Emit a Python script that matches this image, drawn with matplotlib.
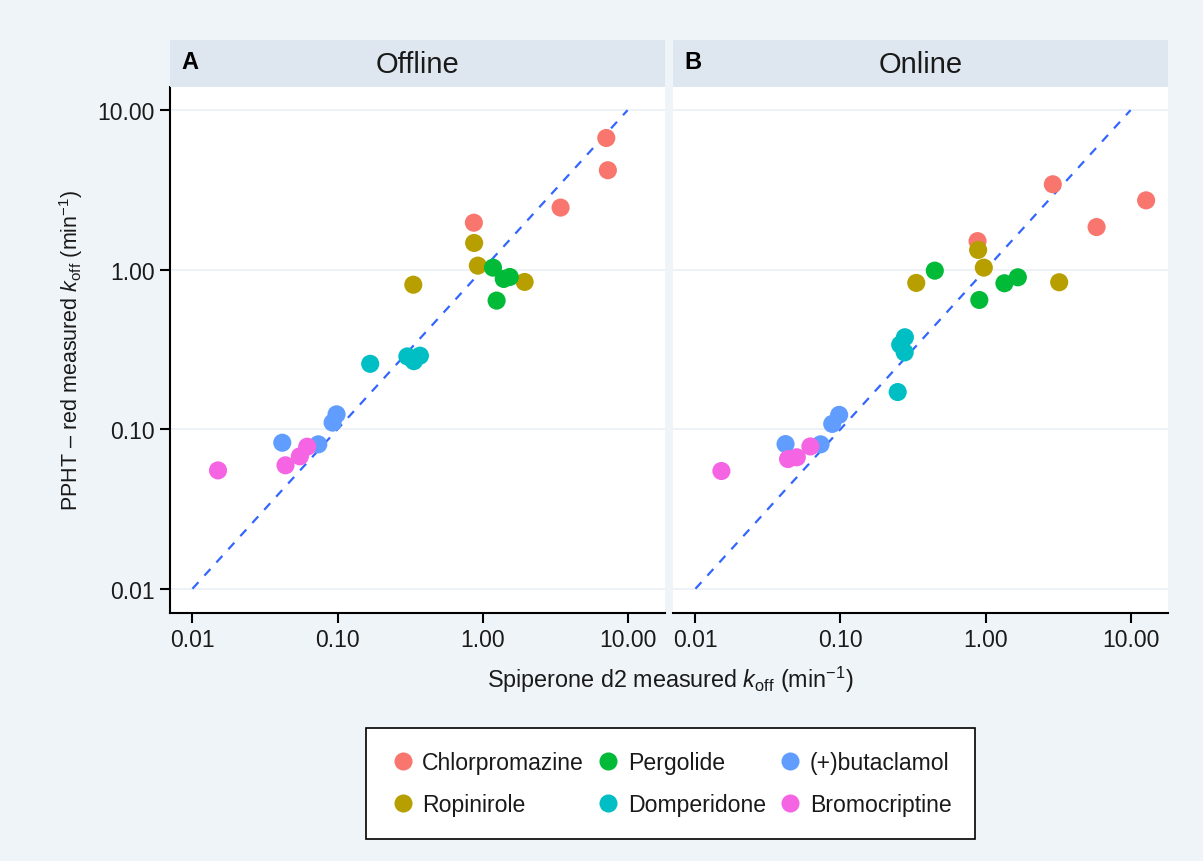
import matplotlib
matplotlib.use("Agg")
import matplotlib.pyplot as plt
from matplotlib.lines import Line2D

plt.rcParams['font.family'] = ['Liberation Sans', 'DejaVu Sans']
plt.rcParams['mathtext.fontset'] = 'custom'
plt.rcParams['mathtext.rm'] = 'Liberation Sans'
plt.rcParams['mathtext.it'] = 'Liberation Sans:italic'

drugs = ['Chlorpromazine', 'Ropinirole', 'Pergolide', 'Domperidone',
         '(+)butaclamol', 'Bromocriptine']
colors = ['#F8766D', '#B79F00', '#00BA38', '#00BFC4', '#619CFF', '#F564E3']

# spiperone koff (x) and PPHT-red koff (y), per drug, offline panel
off_x = {
    'Chlorpromazine': [7.13, 7.31, 3.45, 0.871],
    'Ropinirole': [0.875, 0.928, 0.333, 1.95],
    'Pergolide': [1.18, 1.40, 1.54, 1.25],
    'Domperidone': [0.168, 0.303, 0.336, 0.370],
    '(+)butaclamol': [0.0416, 0.0737, 0.0925, 0.0985],
    'Bromocriptine': [0.0150, 0.0438, 0.0550, 0.0618],
}
off_y = {
    'Chlorpromazine': [6.69, 4.20, 2.45, 1.97],
    'Ropinirole': [1.47, 1.06, 0.805, 0.838],
    'Pergolide': [1.03, 0.875, 0.90, 0.64],
    'Domperidone': [0.257, 0.286, 0.267, 0.289],
    '(+)butaclamol': [0.0823, 0.0804, 0.110, 0.124],
    'Bromocriptine': [0.0552, 0.0594, 0.0676, 0.0777],
}
# online panel
on_x = {
    'Chlorpromazine': [2.91, 12.8, 5.83, 0.881],
    'Ropinirole': [0.889, 0.973, 0.333, 3.22],
    'Pergolide': [0.447, 1.35, 1.67, 0.906],
    'Domperidone': [0.278, 0.258, 0.277, 0.248],
    '(+)butaclamol': [0.0418, 0.0729, 0.0877, 0.0979],
    'Bromocriptine': [0.0151, 0.0435, 0.050, 0.062],
}
on_y = {
    'Chlorpromazine': [3.43, 2.72, 1.85, 1.51],
    'Ropinirole': [1.33, 1.03, 0.826, 0.834],
    'Pergolide': [0.986, 0.822, 0.896, 0.646],
    'Domperidone': [0.377, 0.339, 0.303, 0.171],
    '(+)butaclamol': [0.0807, 0.0804, 0.108, 0.123],
    'Bromocriptine': [0.0547, 0.065, 0.0667, 0.078],
}

ticks = [0.01, 0.1, 1, 10]
tick_labels = ['0.01', '0.10', '1.00', '10.00']
identity = [0.01, 10]

bg = '#EFF4F8'
strip_col = '#DEE7EF'

fig = plt.figure(figsize=(12.03, 8.62), dpi=100)
fig.patch.set_facecolor(bg)

panels = [('A', 'Offline', off_x, off_y, 0.1413),
          ('B', 'Online', on_x, on_y, 0.5594)]
w = 0.4115
bottom = 0.2877
h = 0.6102

for i, (letter, title, xs, ys, left) in enumerate(panels):
    ax = fig.add_axes([left, bottom, w, h])
    ax.set_facecolor('white')
    ax.set_xscale('log')
    ax.set_yscale('log')
    ax.set_xlim(10 ** -2.155, 10 ** 1.258)
    ax.set_ylim(10 ** -2.152, 10 ** 1.145)
    ax.set_xticks(ticks)
    ax.set_xticklabels(tick_labels)
    ax.set_yticks(ticks)
    ax.minorticks_off()
    ax.grid(axis='y', color='#EAF0F6', lw=1.2)
    ax.set_axisbelow(True)
    ax.plot(identity, identity, ls=(0, (4, 4)), color='#3366FF', lw=1.6, zorder=2)
    for d, c in zip(drugs, colors):
        ax.scatter(xs[d], ys[d], s=170, color=c, edgecolors='none', zorder=3)
    ax.spines['top'].set_visible(False)
    ax.spines['right'].set_visible(False)
    ax.spines['bottom'].set_linewidth(1.5)
    ax.spines['left'].set_linewidth(1.5)
    ax.tick_params(length=7, width=1.5, labelsize=16.5, pad=4, labelcolor='#1a1a1a')
    if i == 0:
        ax.set_yticklabels(tick_labels)
    else:
        ax.spines['left'].set_visible(False)
        ax.tick_params(axis='y', left=False, labelleft=False)

    strip = fig.add_axes([left, bottom + h, w, 0.0545])
    strip.set_facecolor(strip_col)
    strip.set_xticks([])
    strip.set_yticks([])
    for s in strip.spines.values():
        s.set_visible(False)
    strip.text(0.5, 0.48, title, ha='center', va='center', fontsize=21,
               color='#1a1a1a', transform=strip.transAxes)
    strip.text(0.041, 0.55, letter, ha='center', va='center', fontsize=17,
               fontweight='bold', transform=strip.transAxes)

fig.text(0.557, 0.211, 'Spiperone d2 measured $k_{\\mathrm{off}}$ (min$^{-1}$)',
         ha='center', va='center', fontsize=16.8, color='#1a1a1a')
fig.text(0.059, 0.594, 'PPHT \u2013 red measured $k_{\\mathrm{off}}$ (min$^{-1}$)',
         ha='center', va='center', fontsize=15.5, rotation=90, color='#1a1a1a')

handles = [Line2D([], [], marker='o', ls='', markersize=13, color=c,
                  markeredgecolor='none') for c in colors]
leg = fig.legend(handles, drugs, ncol=3, loc='center',
                 bbox_to_anchor=(0.557, 0.090), fontsize=16.6, frameon=True,
                 fancybox=False, edgecolor='black', facecolor='white',
                 framealpha=1, handletextpad=0.25,
                 columnspacing=0.45, borderpad=1.0, labelspacing=0.8,
                 handlelength=1.2)
leg.get_frame().set_linewidth(1.2)
for t in leg.get_texts():
    t.set_color('#1a1a1a')

fig.savefig('out.png', dpi=100, facecolor=bg)
